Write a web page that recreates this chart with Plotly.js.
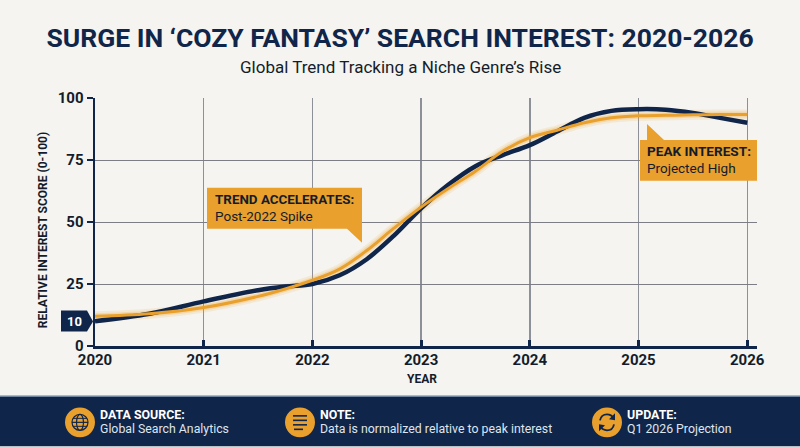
<!DOCTYPE html>
<html>
<head>
<meta charset="utf-8">
<script src="https://cdn.plot.ly/plotly-3.0.1.min.js"></script>
<style>html,body{margin:0;padding:0;background:#f5f4f0}#c{width:800px;height:447px}</style>
</head>
<body>
<div id="c"></div>
<script>
const years = [2020,2020.5,2021,2021.5,2021.75,2022,2022.25,2022.5,2022.75,2023,2023.25,2023.5,2023.75,2024,2024.25,2024.5,2024.75,2025,2025.25,2025.5,2025.75,2026];
const navyValues = [10,13,18,22.5,24,25,28.5,35,44.5,55.5,65,72.5,77,81,86.5,92,94.8,95.5,95.3,94,92,90];
const orangeValues = [12,13,15.5,20,23,26.5,31,38.5,47.5,56,63.5,70.5,78.5,84,87,90,92,92.8,93,93.2,93.3,93.3];
const xTicks = [2020,2021,2022,2023,2024,2025,2026];
const yTicks = [0,25,50,75,100];
const NAVY='#10254a', ORANGE='#e9a02c', INK='#141c2b';

const W=800,H=447,L=95,R=757,T=98,B=346.5;
const X=p=>(p-L)/(R-L), Y=p=>(B-p)/(B-T);
function path(cmds){return cmds.map(c=>{const s=c[0];const a=c.slice(1);let o=s;for(let i=0;i<a.length;i+=2){o+=X(a[i]).toFixed(5)+','+Y(a[i+1]).toFixed(5)+' ';}return o;}).join('');}
const base={xref:'paper',yref:'paper'};
const fill=(cmds,color)=>({...base,type:'path',path:path(cmds),fillcolor:color,line:{width:0}});
const stroke=(cmds,color,w)=>({...base,type:'path',path:path(cmds),fillcolor:'rgba(0,0,0,0)',line:{color:color,width:w}});
const rect=(x0,y0,x1,y1,color)=>({...base,type:'rect',x0:X(x0),x1:X(x1),y0:Y(y0),y1:Y(y1),fillcolor:color,line:{width:0}});
const circle=(cx,cy,rx,ry,f,lc,w)=>({...base,type:'circle',x0:X(cx-rx),x1:X(cx+rx),y0:Y(cy-ry),y1:Y(cy+ry),fillcolor:f,line:{color:lc,width:w}});
const text=(x,y,t,size,color,anchor,weight,angle)=>({xref:'paper',yref:'paper',x:X(x),y:Y(y),text:t,showarrow:false,xanchor:anchor||'left',yanchor:'middle',textangle:angle||0,font:{family:'Roboto',size:size,color:color,weight:weight||400}});

const shapes=[
  rect(0,397,800,447,NAVY),
  rect(0,396,800,397,'#5f7da3'),
  fill([['M',207,188],['L',362,188],['L',362,243],['L',347,229],['L',207,229],['Z']],ORANGE),
  fill([['M',640,140],['L',647,140],['L',647,124],['L',664,140],['L',757,140],['L',757,181],['L',640,181],['Z']],ORANGE),
  fill([['M',61,311],['L',87,311],['L',93,322],['L',87,332],['L',61,332],['Z']],NAVY),
  circle(80,423,15,15,ORANGE,ORANGE,0),
  circle(80,423,8,8,'rgba(0,0,0,0)',NAVY,1.2),
  circle(80,423,3.5,8,'rgba(0,0,0,0)',NAVY,1.2),
  stroke([['M',72,423],['L',88,423]],NAVY,1.2),
  stroke([['M',73,419],['L',87,419]],NAVY,1),
  stroke([['M',73,427],['L',87,427]],NAVY,1),
  circle(300,423,15,15,ORANGE,ORANGE,0),
  stroke([['M',293,416.5],['L',307,416.5]],NAVY,1.6),
  stroke([['M',293,421],['L',307,421]],NAVY,1.6),
  stroke([['M',293,425.5],['L',307,425.5]],NAVY,1.6),
  stroke([['M',294,430],['L',303,430]],NAVY,1.6),
  circle(607,423,15,15,ORANGE,ORANGE,0),
  stroke([['M',600,421],['C',601,416,604,415,607,415],['C',610,415,612,416,614,419]],NAVY,1.8),
  fill([['M',615,414],['L',615,421],['L',609,420],['Z']],NAVY),
  stroke([['M',614,425],['C',613,430,610,431,607,431],['C',604,431,602,430,600,427]],NAVY,1.8),
  fill([['M',599,432],['L',599,425],['L',605,426],['Z']],NAVY)
];

const annotations=[
  text(400,67,'Global Trend Tracking a Niche Genre’s Rise',17,INK,'center'),
  text(43,230.5,'RELATIVE INTEREST SCORE (0-100)',12,INK,'center',700,-90),
  text(422,380,'YEAR',12,INK,'center',700),
  text(213,200,'TREND ACCELERATES:',13.4,INK,'left',700),
  text(213,216,'Post-2022 Spike',13.5,INK,'left'),
  text(645,151,'PEAK INTEREST:',13.6,INK,'left',700),
  text(645,168,'Projected High',13.5,INK,'left'),
  text(74,322,'10',13,'#ffffff','center',700),
  text(98,415,'DATA SOURCE:',12.4,'#ffffff','left',700),
  text(98,429.5,'Global Search Analytics',12.3,'#dfe5ee','left'),
  text(318,415,'NOTE:',12.4,'#ffffff','left',700),
  text(318,429.5,'Data is normalized relative to peak interest',12.3,'#dfe5ee','left'),
  text(625,415,'UPDATE:',12.4,'#ffffff','left',700),
  text(625,429.5,'Q1 2026 Projection',12.3,'#dfe5ee','left')
];

const sp={shape:'spline',smoothing:1};
const data=[
  {x:years,y:orangeValues,mode:'lines',name:'Glow wide',line:{...sp,color:'rgba(235,161,43,0.14)',width:10},hoverinfo:'skip'},
  {x:years,y:orangeValues,mode:'lines',name:'Glow',line:{...sp,color:'rgba(235,161,43,0.24)',width:6},hoverinfo:'skip'},
  {x:years,y:navyValues,mode:'lines',name:'Measured',line:{...sp,color:NAVY,width:4.5}},
  {x:years,y:orangeValues,mode:'lines',name:'Trend',line:{...sp,color:ORANGE,width:3}}
];

const layout={
  width:W,height:H,showlegend:false,
  paper_bgcolor:'#f5f4f0',plot_bgcolor:'#f5f4f0',
  margin:{l:L,r:W-R,t:T,b:H-B,pad:0},
  font:{family:'Roboto',color:INK},
  title:{text:'SURGE IN ‘COZY FANTASY’ SEARCH INTEREST: 2020-2026',xref:'container',yref:'container',x:0.5,xanchor:'center',y:1-38/447,yanchor:'middle',font:{family:'Roboto',size:26.5,color:NAVY,weight:700}},
  xaxis:{range:[2020,2026.09],tickmode:'array',tickvals:xTicks,ticktext:xTicks.map(String),ticklabelstandoff:-2,showgrid:true,gridcolor:'#8e9099',gridwidth:1.4,zeroline:false,showline:true,linecolor:NAVY,linewidth:2.5,ticks:'inside',ticklen:6,tickwidth:3,tickcolor:NAVY,tickfont:{family:'Roboto',size:15,color:INK,weight:700}},
  yaxis:{range:[0,100],tickmode:'array',tickvals:yTicks,ticktext:yTicks.map(String),showgrid:true,gridcolor:'#7d7e85',gridwidth:1,zeroline:false,showline:true,linecolor:NAVY,linewidth:2.5,ticks:'outside',ticklen:6,tickwidth:2,tickcolor:NAVY,tickfont:{family:'Roboto',size:15,color:INK,weight:700}},
  shapes:shapes,annotations:annotations
};
Plotly.newPlot('c',data,layout,{displayModeBar:false,staticPlot:true});
</script>
</body>
</html>
